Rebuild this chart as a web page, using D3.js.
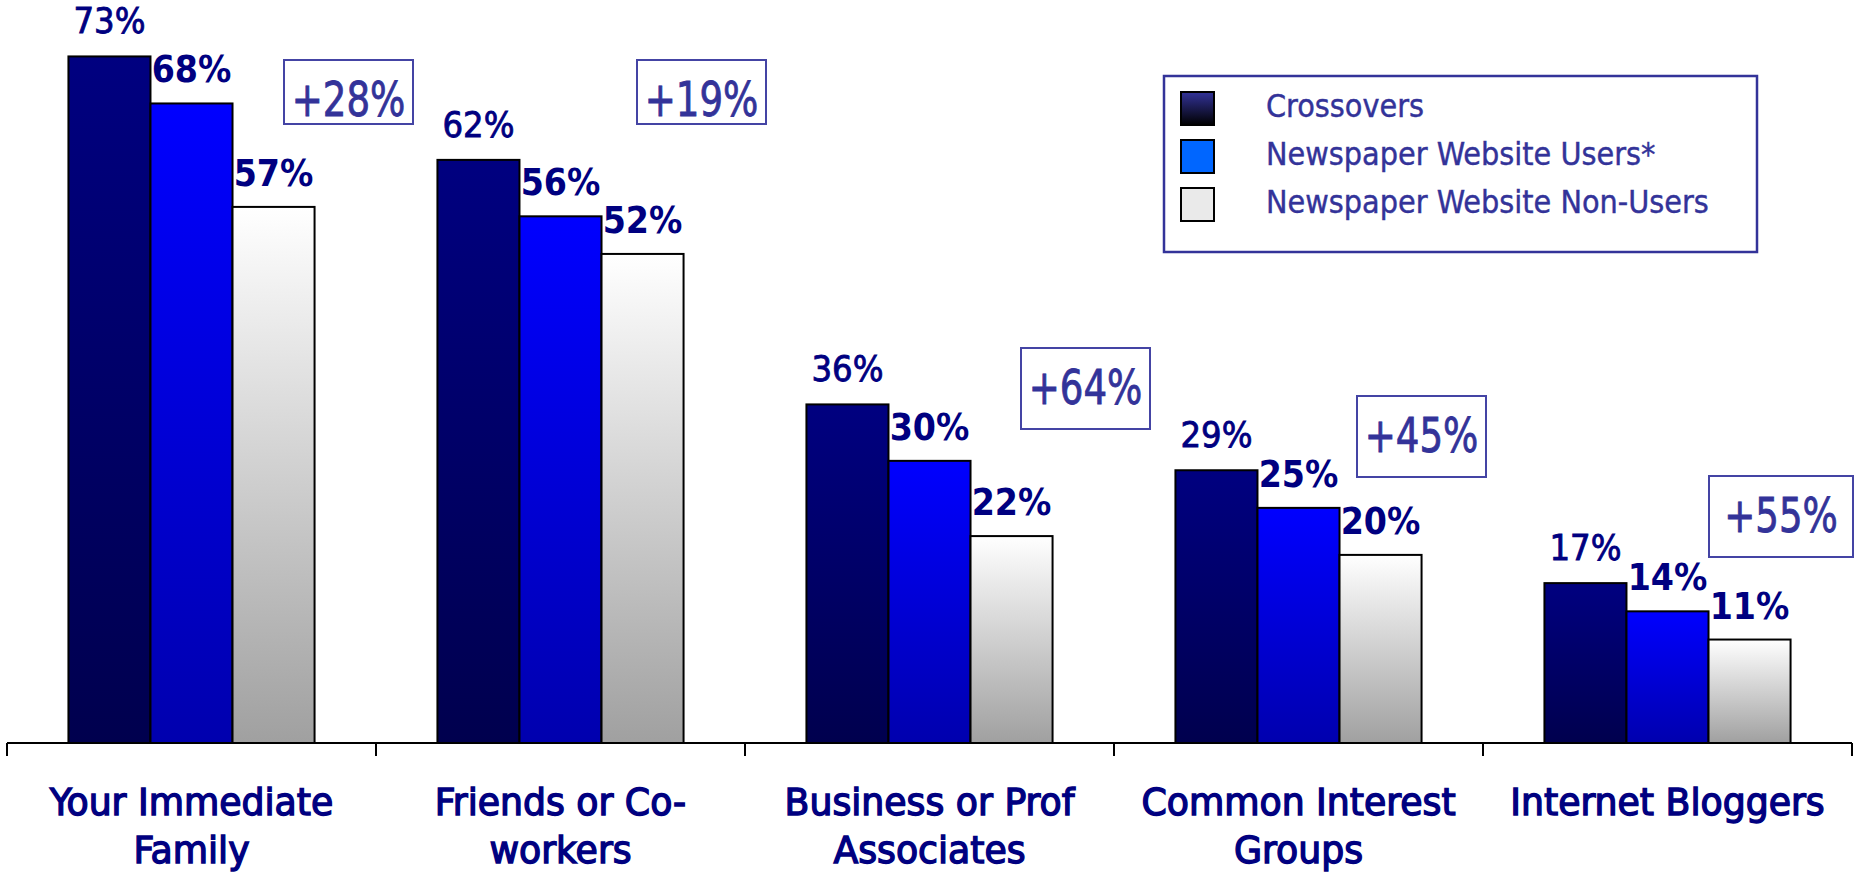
<!DOCTYPE html>
<html>
<head>
<meta charset="utf-8">
<script src="https://cdn.jsdelivr.net/npm/d3@7"></script>
<style>
  body { margin: 0; background: #fff; }
  text { font-family: "DejaVu Sans Condensed", "DejaVu Sans", sans-serif; font-stretch: condensed; }
</style>
</head>
<body>
<svg id="chart" width="1861" height="873"></svg>
<script>
// chart data
const categories = ["Your Immediate Family", "Friends or Co-workers", "Business or Prof Associates", "Common Interest Groups", "Internet Bloggers"];
const categoryLines = [["Your Immediate", "Family"], ["Friends or Co-", "workers"], ["Business or Prof", "Associates"], ["Common Interest", "Groups"], ["Internet Bloggers"]];
const series = ["Crossovers", "Newspaper Website Users*", "Newspaper Website Non-Users"];
const crossovers = [73, 62, 36, 29, 17];
const websiteUsers = [68, 56, 30, 25, 14];
const websiteNonUsers = [57, 52, 22, 20, 11];
const gains = ["+28%", "+19%", "+64%", "+45%", "+55%"];

// layout of the gain boxes (offset from the start of each category band)
const gainBoxes = [
  {dx: 277, y: 60, w: 129, h: 64},
  {dx: 261, y: 60, w: 129, h: 64},
  {dx: 276, y: 348, w: 129, h: 81},
  {dx: 243, y: 396, w: 129, h: 81},
  {dx: 226, y: 476, w: 144, h: 81}
];

const svg = d3.select("#chart");
const values = [crossovers, websiteUsers, websiteNonUsers];

// scales
const x0 = d3.scaleBand().domain(categories).range([7, 1852]);
const groupW = x0.bandwidth() * 0.667;
const x1 = d3.scaleBand().domain(series).range([0, groupW]);
const y = d3.scaleLinear().domain([0, 79]).range([743, 0]);

// gradients for bars and legend
const defs = svg.append("defs");
const grads = [
  {id: "g0", top: "#000080", bottom: "#00004e"},
  {id: "g1", top: "#0000ff", bottom: "#0000ae"},
  {id: "g2", top: "#ffffff", bottom: "#a0a0a0"},
  {id: "lg0", top: "#333399", bottom: "#000000"}
];
grads.forEach(g => {
  const lg = defs.append("linearGradient").attr("id", g.id)
    .attr("x1", 0).attr("y1", 0).attr("x2", 0).attr("y2", 1);
  lg.append("stop").attr("offset", "0%").attr("stop-color", g.top);
  lg.append("stop").attr("offset", "100%").attr("stop-color", g.bottom);
});

// bars
const rows = categories.map((c, i) => ({cat: c, vals: series.map((s, j) => ({s, j, v: values[j][i]}))}));
const groups = svg.append("g").selectAll("g")
  .data(rows)
  .join("g")
  .attr("transform", d => `translate(${x0(d.cat) + (x0.bandwidth() - groupW) / 2},0)`);

groups.selectAll("rect")
  .data(d => d.vals)
  .join("rect")
  .attr("x", d => x1(d.s))
  .attr("y", d => y(d.v))
  .attr("width", x1.bandwidth())
  .attr("height", d => y(0) - y(d.v))
  .attr("fill", d => `url(#g${d.j})`)
  .attr("stroke", "#000")
  .attr("stroke-width", 2);

// value labels (crossovers in regular weight, the others bold)
groups.selectAll("text")
  .data(d => d.vals)
  .join("text")
  .attr("x", d => x1(d.s) + x1.bandwidth() / 2)
  .attr("y", d => y(d.v) - (d.j === 0 ? 23 : 21))
  .attr("text-anchor", "middle")
  .attr("fill", "#000080")
  .attr("stroke", d => d.j === 0 ? "#000080" : "none")
  .attr("stroke-width", 0.8)
  .attr("font-size", d => d.j === 0 ? 36 : 37)
  .attr("font-weight", d => d.j === 0 ? "normal" : "bold")
  .text(d => d.v + "%");

// axis line and ticks at band edges
const edges = categories.map(c => x0(c)).concat([x0.range()[1]]);
const axis = svg.append("g");
axis.append("line")
  .attr("x1", x0.range()[0]).attr("x2", x0.range()[1])
  .attr("y1", y(0)).attr("y2", y(0))
  .attr("stroke", "#000").attr("stroke-width", 2);
axis.selectAll(".tick")
  .data(edges)
  .join("line")
  .attr("class", "tick")
  .attr("x1", d => d).attr("x2", d => d)
  .attr("y1", y(0)).attr("y2", y(0) + 13)
  .attr("stroke", "#000").attr("stroke-width", 2);

// category labels
axis.selectAll(".cat")
  .data(categories)
  .join("text")
  .attr("class", "cat")
  .attr("transform", d => `translate(${x0(d) + x0.bandwidth() / 2},0) scale(1.06,1)`)
  .attr("text-anchor", "middle")
  .attr("fill", "#000080")
  .attr("stroke", "#000080")
  .attr("stroke-width", 1.3)
  .attr("font-size", 38)
  .each(function(d, i) {
    d3.select(this).selectAll("tspan")
      .data(categoryLines[i])
      .join("tspan")
      .attr("x", 0)
      .attr("y", (t, k) => 815 + k * 48)
      .text(t => t);
  });

// gain boxes
const gain = svg.append("g").selectAll("g")
  .data(categories)
  .join("g")
  .attr("transform", (d, i) => `translate(${x0(d) + gainBoxes[i].dx},${gainBoxes[i].y})`);
gain.append("rect")
  .attr("width", (d, i) => gainBoxes[i].w)
  .attr("height", (d, i) => gainBoxes[i].h)
  .attr("fill", "#fff")
  .attr("stroke", "#4444a4")
  .attr("stroke-width", 2);
gain.append("text")
  .attr("transform", (d, i) => `translate(${gainBoxes[i].w / 2},56) scale(0.86,1)`)
  .attr("text-anchor", "middle")
  .attr("fill", "#333399")
  .attr("stroke", "#333399")
  .attr("stroke-width", 0.8)
  .attr("font-size", 48)
  .text((d, i) => gains[i]);

// legend
const legend = svg.append("g").attr("transform", "translate(1164,76)");
legend.append("rect")
  .attr("width", 593).attr("height", 176)
  .attr("fill", "#fff")
  .attr("stroke", "#333399")
  .attr("stroke-width", 2.5);
const legendFills = ["url(#lg0)", "#0066ff", "#eaeaea"];
const items = legend.selectAll(".item")
  .data(series)
  .join("g")
  .attr("class", "item")
  .attr("transform", (d, i) => `translate(17,${16 + i * 48})`);
items.append("rect")
  .attr("width", 33).attr("height", 33)
  .attr("fill", (d, i) => legendFills[i])
  .attr("stroke", "#000").attr("stroke-width", 2);
items.append("text")
  .attr("x", 85).attr("y", 25)
  .attr("fill", "#333399")
  .attr("stroke", "#333399")
  .attr("stroke-width", 0.4)
  .attr("font-size", 32)
  .text(d => d);
</script>
</body>
</html>
